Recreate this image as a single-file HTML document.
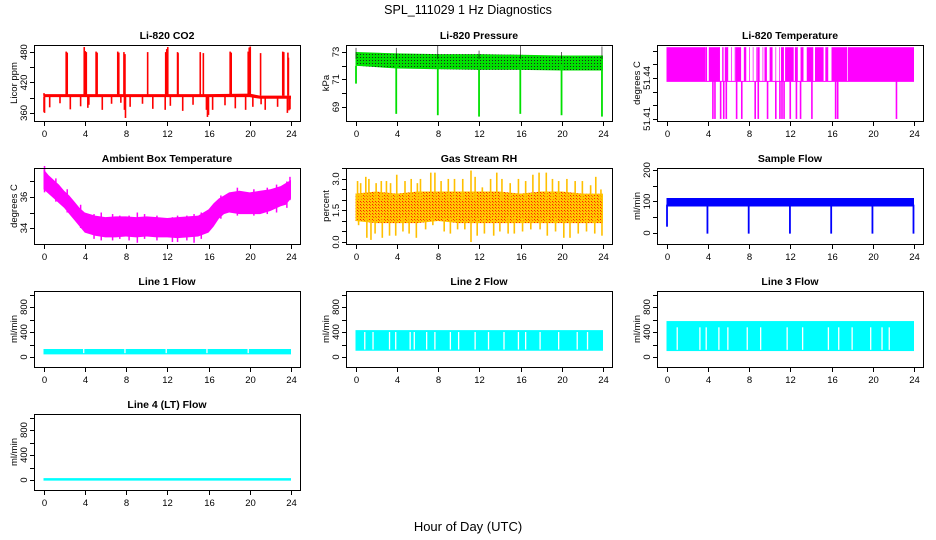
<!DOCTYPE html>
<html><head><meta charset="utf-8">
<style>
html,body{margin:0;padding:0;background:#fff;}
svg{display:block;font-family:"Liberation Sans",Arial,sans-serif;}
</style></head>
<body>
<svg id="chart" width="936" height="540" viewBox="0 0 936 540" xmlns="http://www.w3.org/2000/svg">
<defs>
<pattern id="pdots" width="3" height="3" patternUnits="userSpaceOnUse"><rect width="3" height="3" fill="#00e000"/><rect width="1" height="1" fill="#222"/></pattern>
<pattern id="rdots" width="3" height="3" patternUnits="userSpaceOnUse"><rect width="3" height="3" fill="#ffc800"/><rect width="1" height="1" fill="#ff2000"/><rect x="1" y="1" width="1" height="1" fill="#ff6000"/></pattern>
</defs>
<text x="468" y="14" text-anchor="middle" font-size="12.5">SPL_111029  1 Hz Diagnostics</text>
<text x="468" y="531" text-anchor="middle" font-size="13">Hour of Day (UTC)</text>
</svg>
<script>
// ---- data arrays ----
const xTicks = [0,4,8,12,16,20,24];
// CO2
const co2BandT = [0,4,8,12,16,20,21,24];
const co2BandLo = [391,391,391,391,391,391,388,388];
const co2BandHi = [397,397,397,397,397,398,394,394];
const co2UpT = [0.05,2.2,2.3,3.95,4.05,4.15,5.1,5.2,7.2,7.3,7.8,7.9,10.1,11.85,11.95,12.05,13.0,13.05,15.2,15.5,18.1,18.2,19.85,19.95,20.05,21.05,23.2,23.3,23.7,23.75];
const co2UpV = [399,481,479,490,482,480,481,479,481,479,480,476,480,480,486,490,480,478,480,478,481,479,481,489,491,478,481,480,479,469];
const co2DnT = [0.05,0.1,0.6,1.6,2.6,3.6,4.3,4.4,5.7,6.6,7.5,7.85,7.95,8.4,9.6,10.6,11.8,12.3,13.5,14.5,15.8,15.9,16.0,16.4,17.6,18.6,19.6,20.3,21.1,21.5,22.7,23.65,23.8,23.9];
const co2DnV = [362,360,371,379,367,373,370,376,366,378,380,366,350,372,378,368,366,374,364,376,366,352,356,366,375,369,366,372,377,366,372,360,365,367];
// Pressure
const prT = [0,4,8,12,16,20,24];
const prLo = [72.0,71.8,71.75,71.7,71.7,71.65,71.65];
const prHi = [73.0,72.9,72.85,72.85,72.8,72.75,72.75];
const prDropT = [0.05,3.95,7.98,11.98,15.98,19.98,23.9];
const prDropV = [70.7,68.5,68.4,68.3,68.5,68.4,68.3];
const prSpikeV = [73.3,73.3,73.5,73.1,73.5,73.0,73.4];
// Li-820 temperature
const ltHigh = 51.4625, ltMid = 51.4375, ltLow = 51.4100;
const ltFillStart = [0,3.75,4.1,5.4,5.65,6.7,7.5,8.8,9.5,10.0,11.1,11.5,12.45,13.0,13.6,14.4,15.4,16.0,17.6];
const ltFillEnd   = [3.7,3.9,5.15,5.5,5.95,7.2,7.7,9.0,9.7,10.25,11.35,12.3,12.7,13.25,14.2,15.2,15.65,17.5,24];
const ltDropT = [4.5,4.7,5.25,5.55,5.8,6.8,7.3,8.6,8.9,9.8,10.6,11.0,11.2,11.4,12.0,12.6,13.0,14.1,16.4,16.6,22.3];
// Ambient box temperature
const ambT  = [0,0.5,1,1.5,2,2.5,3,3.5,4,5,6,7,8,9,10,11,12,13,14,15,16,16.5,17,17.5,18,19,20,21,22,23,23.5,24];
const ambLo = [36.5,36.2,35.9,35.6,35.3,34.9,34.5,34.1,33.7,33.5,33.4,33.4,33.45,33.4,33.45,33.4,33.4,33.35,33.4,33.45,33.7,34.1,34.6,34.9,35.0,34.9,34.9,34.9,35.1,35.4,35.5,35.9];
const ambHi = [37.8,37.4,37.1,36.8,36.4,36.1,35.7,35.3,35.0,34.8,34.7,34.75,34.75,34.7,34.75,34.7,34.65,34.7,34.75,34.8,35.2,35.6,35.9,36.1,36.3,36.4,36.3,36.4,36.5,36.7,36.9,37.1];
const ambSpT = [0.1,1.2,2.3,3.6,4.9,5.6,6.7,7.4,8.3,9.1,9.8,11.0,12.5,13.0,13.9,14.6,15.3,17.2,18.8,20.4,21.7,22.6,23.6,23.9];
const ambSpHi = [38.0,37.2,36.5,35.5,34.9,35.0,34.9,34.8,34.8,35.0,34.9,34.8,34.7,34.8,34.8,34.9,35.0,36.1,36.6,36.5,36.6,36.8,37.0,37.3];
const ambSpLo = [36.3,35.7,35.0,34.0,33.3,33.2,33.2,33.3,33.2,33.05,33.3,33.2,33.1,33.1,33.2,33.05,33.3,34.6,34.8,34.8,34.9,35.0,35.3,35.8];
// Gas stream RH
const rhT  = [0,2,4,6,8,10,12,14,16,18,20,22,24];
const rhLo = [1.0,0.9,0.9,0.9,1.0,0.9,0.9,0.9,0.9,0.9,0.9,0.9,0.9];
const rhHi = [2.3,2.4,2.3,2.4,2.4,2.4,2.4,2.4,2.3,2.4,2.4,2.3,2.3];
const rhUpT = [0.2,0.5,1.0,1.3,2.0,2.5,3.0,3.4,4.0,4.8,5.4,6.0,6.3,7.3,7.7,8.3,9.0,9.6,10.4,11.2,11.6,12.3,13.1,13.7,14.2,15.0,15.8,16.5,17.2,17.8,18.5,19.1,19.7,20.5,21.3,22.0,22.8,23.3,23.8];
const rhUpV = [2.9,2.8,3.1,3.0,2.8,2.9,2.9,2.8,3.2,2.9,3.0,2.8,3.0,3.3,3.3,2.9,3.0,3.0,3.0,3.4,3.1,2.6,3.0,3.3,3.0,2.8,3.0,2.9,3.2,3.3,3.3,3.0,2.9,3.0,2.9,2.9,2.7,3.1,2.5];
const rhDnT = [0.3,1.1,1.5,1.9,2.6,3.3,3.9,4.6,5.2,5.9,6.8,7.5,8.6,9.2,9.9,10.6,11.2,11.8,12.5,13.4,14.0,14.8,15.4,16.2,17.0,17.9,18.6,19.4,20.2,20.8,21.6,22.4,23.2,23.9];
const rhDnV = [0.8,0.2,0.1,0.4,0.2,0.3,0.3,0.5,0.4,0.2,0.6,0.8,0.5,0.4,0.6,0.6,0.0,0.3,0.4,0.3,0.5,0.4,0.4,0.5,0.6,0.6,0.3,0.5,0.2,0.2,0.4,0.5,0.4,0.3];
// Sample flow
const sfT = [0,24];
const sfLo = [84,84];
const sfHi = [111,111];
const sfDropT = [0.05,3.97,7.97,11.97,15.97,19.97,23.95];
const sfDropV = [20,-2,-2,-2,-2,-2,-2];
// Line flows
const l1Lo = 42, l1Hi = 128;
const l1GapT = [3.9,7.9,11.9,15.85,19.85];
const l2Lo = 100, l2Hi = 430;
const l2GapT = [0.9,1.7,3.3,3.9,5.3,5.7,6.9,7.7,9.2,10.0,11.6,12.9,14.4,15.8,16.5,17.9,19.7,21.5,22.5];
const l3Lo = 95, l3Hi = 575;
const l3GapT = [1.04,3.24,3.85,5.08,5.95,7.83,9.13,11.7,13.2,15.7,16.7,18.0,19.8,20.9,21.6];
const l4Lo = -10, l4Hi = 30;

// ---- layout ----
const svg = document.getElementById('chart');
const NS = 'http://www.w3.org/2000/svg';
const colL = [34,346,657], rowT = [45,168,291,414], W = 266, H = 76;
function el(tag, attrs, parent){const e=document.createElementNS(NS,tag);for(const k in attrs)e.setAttribute(k,attrs[k]);(parent||svg).appendChild(e);return e;}

function makePanel(name,col,row,title,ylab,ymin,ymax,yTicks,yLabels){
  const L=colL[col],T=rowT[row];
  const g=el('g',{});
  
  
  const xs=v=>L+9.5+v*(247.5/24);
  const ys=v=>T+H-(v-ymin)/(ymax-ymin)*H;
  const p={g,xs,ys,L,T};
  const data=el('g',{},g);
  
  
  p.data=data;
  p.finish=function(){
    const box=el('rect',{x:L+0.5,y:T+0.5,width:W,height:H,fill:'none',stroke:'#000','stroke-width':1},g);
    
    
    const t=el('text',{x:L+W/2,y:T-6,'text-anchor':'middle','font-size':'10.5','font-weight':'bold'},g);
    t.textContent=title;
    
    
    const xa=el('g',{},g);
    
    
    xTicks.forEach(v=>{
      const x=Math.round(xs(v))+0.5;
      el('line',{x1:x,x2:x,y1:T+H+1,y2:T+H+5,stroke:'#000'},xa);
      const tx=el('text',{x:x,y:T+H+16,'text-anchor':'middle','font-size':'9.5'},xa);
      tx.textContent=v;
    });
    const ya=el('g',{},g);
    
    
    yTicks.forEach(v=>{
      const y=Math.round(ys(v))+0.5;
      el('line',{x1:L-4,x2:L+0.5,y1:y,y2:y,stroke:'#000'},ya);
    });
    yLabels.forEach(v=>{
      const y=ys(v);
      const tx=el('text',{x:0,y:0,'text-anchor':'middle','font-size':'9.5',transform:`translate(${L-7},${y}) rotate(-90)`},ya);
      tx.textContent=v;
    });
    const yl=el('text',{x:0,y:0,'text-anchor':'middle','font-size':'9.5',transform:`translate(${L-17},${T+H/2}) rotate(-90)`},g);
    yl.textContent=ylab;
    
    
  };
  return p;
}
function band(p,ts,lo,hi,fill){
  let pts=ts.map((t,i)=>p.xs(t)+','+p.ys(hi[i]));
  pts=pts.concat(ts.map((t,i)=>p.xs(t)+','+p.ys(lo[i])).reverse());
  return el('polygon',{points:pts.join(' '),fill:fill},p.data);
}
function vline(p,t,v1,v2,color,w){
  return el('line',{x1:p.xs(t),x2:p.xs(t),y1:p.ys(v1),y2:p.ys(v2),stroke:color,'stroke-width':w||1.5},p.data);
}

// CO2
{const p=makePanel('co2',0,0,'Li-820 CO2','Licor ppm',344,494,[360,390,420,450,480],[360,420,480]);
 band(p,co2BandT,co2BandLo,co2BandHi,'#ff0000');
 co2UpT.forEach((t,i)=>vline(p,t,394,co2UpV[i],'#ff0000',1.6));
 co2DnT.forEach((t,i)=>vline(p,t,392,co2DnV[i],'#ff0000',1.6));
 p.finish();}
// Pressure
{const p=makePanel('pressure',1,0,'Li-820 Pressure','kPa',67.98,73.51,[69,70,71,72,73],[69,71,73]);
 band(p,prT,prLo,prHi,'url(#pdots)');
 prDropT.forEach((t,i)=>{vline(p,t,72,prDropV[i],'#00e000',1.8);vline(p,t,72.5,prSpikeV[i],'#000',0.6);});
 p.finish();}
// Li-820 Temperature
{const p=makePanel('li820-temp',2,0,'Li-820 Temperature','degrees C',51.4085,51.4641,[51.41,51.42,51.43,51.44,51.45,51.46],[51.41,51.44]);
 ltFillStart.forEach((s,i)=>{el('rect',{x:p.xs(s),y:p.ys(ltHigh),width:Math.max(1,p.xs(ltFillEnd[i])-p.xs(s)),height:p.ys(ltMid)-p.ys(ltHigh),fill:'#ff00ff'},p.data);});
 el('line',{x1:p.xs(0),x2:p.xs(24),y1:p.ys(ltMid),y2:p.ys(ltMid),stroke:'#ff00ff','stroke-width':1},p.data);
 for(let i=0;i<ltFillEnd.length-1;i++){const a=ltFillEnd[i],b=ltFillStart[i+1];for(let t=a;t<b;t+=0.35)vline(p,t,ltMid,ltHigh,'#ff00ff',0.7);}
 ltDropT.forEach(t=>vline(p,t,ltMid,ltLow,'#ff00ff',1.6));
 p.finish();}
// Ambient
{const p=makePanel('ambient-temp',0,1,'Ambient Box Temperature','degrees C',32.97,37.87,[34,35,36,37],[34,36]);
 band(p,ambT,ambLo,ambHi,'#ff00ff');
 ambSpT.forEach((t,i)=>vline(p,t,ambSpLo[i],ambSpHi[i],'#ff00ff',1.5));
 p.finish();}
// RH
{const p=makePanel('gas-rh',1,1,'Gas Stream RH','percent',-0.095,3.52,[0,0.5,1,1.5,2,2.5,3,3.5],['0.0','1.5','3.0']);
 band(p,rhT,rhLo,rhHi,'url(#rdots)');
 rhUpT.forEach((t,i)=>vline(p,t,2.0,rhUpV[i],'#ffc000',1.6));
 rhDnT.forEach((t,i)=>vline(p,t,1.2,rhDnV[i],'#ffc000',1.6));
 p.finish();}
// Sample flow
{const p=makePanel('sample-flow',2,1,'Sample Flow','ml/min',-34.9,206.3,[0,50,100,150,200],[0,100,200]);
 band(p,sfT,sfLo,sfHi,'#0000ff');
 sfDropT.forEach((t,i)=>vline(p,t,90,sfDropV[i],'#0000ff',1.8));
 p.finish();}
// Line flows
function lineFlow(name,col,row,title,lo,hi,gaps,gapTop){
  const p=makePanel(name,col,row,title,'ml/min',-160,1056,[0,200,400,600,800,1000],[0,400,800]);
  el('rect',{x:p.xs(0),y:p.ys(hi),width:p.xs(24)-p.xs(0),height:p.ys(lo)-p.ys(hi),fill:'#00ffff'},p.data);
  gaps.forEach(t=>vline(p,t,lo+20,gapTop,'#ffffff',1.3));
  p.finish();
}
lineFlow('line1-flow',0,2,'Line 1 Flow',l1Lo,l1Hi,l1GapT,l1Hi);
lineFlow('line2-flow',1,2,'Line 2 Flow',l2Lo,l2Hi,l2GapT,l2Hi-30);
lineFlow('line3-flow',2,2,'Line 3 Flow',l3Lo,l3Hi,l3GapT,l3Hi-100);
lineFlow('line4-flow',0,3,'Line 4 (LT) Flow',l4Lo,l4Hi,[],l4Hi);
</script>
</body></html>
